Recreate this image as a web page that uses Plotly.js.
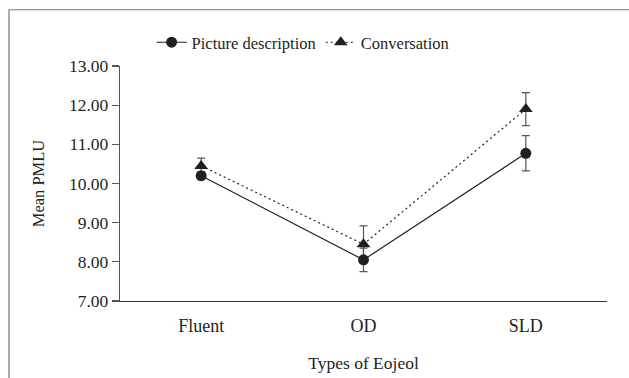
<!DOCTYPE html>
<html>
<head>
<meta charset="utf-8">
<script src="https://cdn.plot.ly/plotly-3.0.1.min.js"></script>
<style>html,body{margin:0;padding:0;background:#fff;}#chart{width:629px;height:378px;}</style>
</head>
<body>
<div id="chart"></div>
<script>
const categories = ["Fluent", "OD", "SLD"];
const pictureMeans = [10.20, 8.05, 10.77];
const pictureErrors = [0.10, 0.30, 0.45];
const conversationMeans = [10.45, 8.45, 11.90];
const conversationErrors = [0.20, 0.47, 0.42];
const yTicks = [7, 8, 9, 10, 11, 12, 13];

const ink = '#231f20';
const fontFam = '"Liberation Serif", "Times New Roman", serif';

const traces = [
  {
    x: categories, y: conversationMeans, name: 'Conversation',
    type: 'scatter', mode: 'lines+markers',
    line: {color: ink, width: 1.2, dash: '2px,3px'},
    marker: {symbol: 'triangle-up', size: 12, color: ink},
    error_y: {type: 'data', array: conversationErrors, visible: true, color: '#555', thickness: 1.2, width: 4}
  },
  {
    x: categories, y: pictureMeans, name: 'Picture description',
    type: 'scatter', mode: 'lines+markers',
    line: {color: ink, width: 1.2},
    marker: {symbol: 'circle', size: 11, color: ink},
    error_y: {type: 'data', array: pictureErrors, visible: true, color: '#555', thickness: 1.2, width: 4}
  }
];

const layout = {
  width: 629, height: 378,
  margin: {l: 120, r: 22, t: 65.5, b: 76.5},
  paper_bgcolor: '#fff', plot_bgcolor: '#fff',
  font: {family: fontFam, size: 17, color: ink},
  showlegend: true,
  legend: {
    orientation: 'h', x: 0.376, xanchor: 'center', y: 1.1, yanchor: 'middle',
    traceorder: 'reversed', itemwidth: 30,
    font: {family: fontFam, size: 16.5, color: ink}, bgcolor: 'rgba(0,0,0,0)'
  },
  xaxis: {
    type: 'category', range: [-0.5, 2.5],
    showline: true, linecolor: '#333', linewidth: 1.2,
    ticks: '', showgrid: false, zeroline: false,
    ticklabelstandoff: 8,
    tickfont: {family: fontFam, size: 18, color: ink},
    title: {text: 'Types of Eojeol', font: {family: fontFam, size: 17.5, color: ink}, standoff: 22}
  },
  yaxis: {
    range: [7, 13], tickvals: yTicks, tickformat: '.2f',
    showline: true, linecolor: '#555', linewidth: 1.2,
    ticks: 'outside', ticklen: 7, tickcolor: '#555', tickwidth: 1.2,
    showgrid: false, zeroline: false,
    tickfont: {family: fontFam, size: 17.5, color: ink},
    title: {text: 'Mean PMLU', font: {family: fontFam, size: 16.5, color: ink}, standoff: 20}
  },
  shapes: [{
    type: 'rect', xref: 'paper', yref: 'paper',
    x0: (9 - 120) / 487, x1: 1.2, y0: -0.5, y1: (301.5 - 9) / 236,
    line: {color: '#777', width: 1.2}, fillcolor: 'rgba(0,0,0,0)', layer: 'below'
  }]
};

Plotly.newPlot('chart', traces, layout, {displayModeBar: false, staticPlot: true});
</script>
</body>
</html>
